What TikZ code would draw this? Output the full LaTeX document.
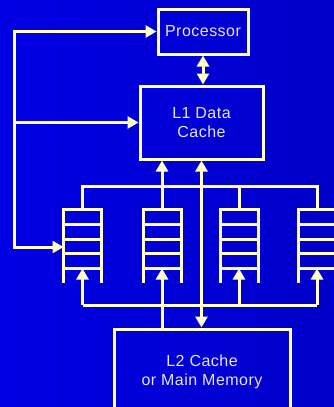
\documentclass[tikz,border=0pt]{standalone}
\usepackage{fontspec}
\setmainfont{Liberation Sans}[LetterSpace=3]
\usetikzlibrary{positioning, arrows.meta, calc}
\definecolor{slideleft}{RGB}{0,0,228}
\definecolor{slideright}{RGB}{0,0,200}
\definecolor{wirecolor}{RGB}{255,255,204}
\definecolor{labelcolor}{RGB}{228,228,255}

\tikzset{
    wire/.style={wirecolor, line width=3pt},
    arrowin/.style={-{Triangle[length=11pt,width=12pt]}},
    arrowboth/.style={{Triangle[length=11pt,width=12pt]}-{Triangle[length=11pt,width=12pt]}},
    unit/.style={draw=wirecolor, line width=3pt, text=labelcolor, align=center, inner sep=0pt,
        font=\fontsize{16}{19.5}\selectfont},
    slots/.style={draw=wirecolor, line width=3pt, outer sep=0pt, minimum width=38, minimum height=59}
}

\begin{document}
\begin{tikzpicture}[x=1pt,y=-1pt]
    \useasboundingbox (0,0) rectangle (334,407);
    \clip (0,0) rectangle (334,407);
    \shade[left color=slideleft, right color=slideright] (0,0) rectangle (334,407);

    % processor and caches
    \node[unit, minimum width=90, minimum height=45] (proc) at (203,31.5) {Processor};
    \node[unit, minimum width=123, minimum height=73] (l1) at (201.5,122.5) {L1 Data\\Cache};
    \node[unit, minimum width=176, minimum height=86] (l2) at (202,372) {L2 Cache\\or Main Memory};

    % stream buffers
    \foreach \i/\x in {1/82.5, 2/162, 3/239, 4/317} {
        \node[slots] (buf\i) at (\x,239) {};
        \draw[wire] (buf\i.north west) -- ++(0,73.5) (buf\i.north east) -- ++(0,73.5);
        \foreach \k in {1,2,3}
            \draw[wire] ($(buf\i.north west)!\k/4!(buf\i.south west)$) -- ($(buf\i.north east)!\k/4!(buf\i.south east)$);
    }

    \coordinate (topbus) at (0,186);
    \coordinate (botbus) at (0,305);
    \coordinate (fbtop) at (14,31.5);
    \coordinate (fbbot) at (14,247);

    \draw[wire, arrowboth] (proc.south) -- (proc.south |- l1.north);
    \draw[wire, arrowboth] (l1.south) -- (l1.south |- l2.north);

    % buffers to L1
    \draw[wire] (buf1.north) -- (buf1.north |- topbus) -- (buf4.north |- topbus) -- (buf4.north);
    \draw[wire] (buf3.north) -- (buf3.north |- topbus);
    \draw[wire, arrowin] (buf2.north) -- (buf2.north |- l1.south);

    % memory to buffers
    \draw[wire] (buf1.south |- botbus) -- (buf4.south |- botbus);
    \foreach \i in {1,3,4}
        \draw[wire, arrowin] (buf\i.south |- botbus) -- (buf\i.south);
    \draw[wire, arrowin] (buf2.south |- l2.north) -- (buf2.south);

    % miss address feedback
    \draw[wire, arrowboth] (proc.west) -- (fbtop) -- (fbbot) -- (fbbot -| buf1.west);
    \draw[wire, arrowin] (fbtop |- l1.west) -- (l1.west);
\end{tikzpicture}
\end{document}
